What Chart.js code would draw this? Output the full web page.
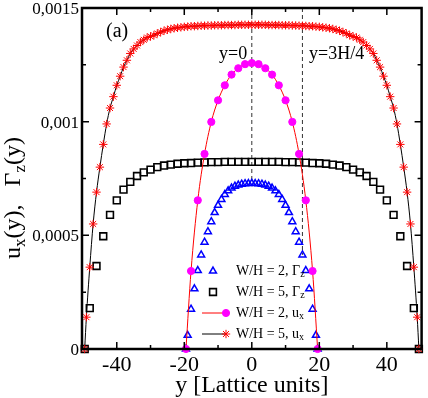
<!DOCTYPE html>
<html>
<head>
<meta charset="utf-8">
<script src="https://cdn.jsdelivr.net/npm/chart.js@4.4.0/dist/chart.umd.min.js"></script>
<style>
  html, body { margin: 0; padding: 0; background: #fff; }
  #wrap { width: 428px; height: 398px; }
</style>
</head>
<body>
<div id="wrap"><canvas id="profile" width="428" height="398"></canvas></div>
<script>
// W/H = 5, u_x  (red asterisks + black line)
const w5UxX = [-49.5, -49, -48, -47, -46, -45, -44, -43, -42, -41, -40, -39, -38, -37, -36, -35, -34, -33, -32, -31,
  -30, -29, -28, -27, -26, -25, -24, -23, -22, -21, -20, -19, -18, -17, -16, -15, -14, -13, -12, -11,
  -10, -9, -8, -7, -6, -5, -4, -3, -2, -1, 0, 1, 2, 3, 4, 5, 6, 7, 8, 9,
  10, 11, 12, 13, 14, 15, 16, 17, 18, 19, 20, 21, 22, 23, 24, 25, 26, 27, 28, 29,
  30, 31, 32, 33, 34, 35, 36, 37, 38, 39, 40, 41, 42, 43, 44, 45, 46, 47, 48, 49, 49.5];
const w5UxY = [0, 0.00014, 0.00036, 0.00055, 0.00069, 0.0008, 0.0009, 0.00099, 0.00106, 0.00111,
  0.00116, 0.0012, 0.00124, 0.00127, 0.0013, 0.00132, 0.001335, 0.00135, 0.00136, 0.00137,
  0.001375, 0.00138, 0.001388, 0.001394, 0.0014, 0.001404, 0.001408, 0.001411, 0.001413, 0.001415,
  0.001417, 0.001418, 0.00142, 0.00142, 0.001421, 0.001422, 0.001422, 0.001423, 0.001423, 0.001424,
  0.001424, 0.001424, 0.001425, 0.001425, 0.001425, 0.001425, 0.001426, 0.001426, 0.001426, 0.001426,
  0.001426,
  0.001426, 0.001426, 0.001426, 0.001426, 0.001425, 0.001425, 0.001425, 0.001425, 0.001424, 0.001424,
  0.001424, 0.001423, 0.001423, 0.001422, 0.001422, 0.001421, 0.00142, 0.00142, 0.001418, 0.001417,
  0.001415, 0.001413, 0.001411, 0.001408, 0.001404, 0.0014, 0.001394, 0.001388, 0.00138, 0.001375,
  0.00137, 0.00136, 0.00135, 0.001335, 0.00132, 0.0013, 0.00127, 0.00124, 0.0012, 0.00116,
  0.00111, 0.00106, 0.00099, 0.0009, 0.0008, 0.00069, 0.00055, 0.00036, 0.00014, 0];

// W/H = 5, Gamma_z  (black open squares)
const w5GzX = [-49.5, -48, -46, -44, -42, -40, -38, -36, -34, -32, -30, -28, -26, -24, -22, -20, -18, -16, -14, -12,
  -10, -8, -6, -4, -2, 0, 2, 4, 6, 8, 10, 12, 14, 16, 18, 20, 22, 24, 26, 28,
  30, 32, 34, 36, 38, 40, 42, 44, 46, 48, 49.5];
const w5GzY = [0, 0.00018, 0.000365, 0.000496, 0.00059, 0.000654, 0.000701, 0.000735, 0.000761, 0.000777,
  0.000789, 0.0008, 0.000807, 0.000811, 0.000815, 0.000817, 0.000818, 0.00082, 0.000821, 0.000822,
  0.000822, 0.000823, 0.000823, 0.000823, 0.000823, 0.000823, 0.000823, 0.000823, 0.000823, 0.000823,
  0.000822, 0.000822, 0.000821, 0.00082, 0.000818, 0.000817, 0.000815, 0.000811, 0.000807, 0.0008,
  0.000789, 0.000777, 0.000761, 0.000735, 0.000701, 0.000654, 0.00059, 0.000496, 0.000365, 0.00018, 0];

// W/H = 2, u_x  (magenta dots + red line)
const w2UxX = [-19.5, -18, -16, -14, -12, -10, -8, -6, -4, -2, 0, 2, 4, 6, 8, 10, 12, 14, 16, 18, 19.5];
const w2UxY = [0, 0.000343, 0.000654, 0.000858, 0.000999, 0.001094, 0.00116, 0.001207, 0.001235, 0.001253,
  0.001258, 0.001253, 0.001235, 0.001207, 0.00116, 0.001094, 0.000999, 0.000858, 0.000654, 0.000343, 0];

// W/H = 2, Gamma_z  (blue open triangles)
const w2GzX = [-19.5, -19, -18, -17, -16, -15, -14, -13, -12, -11, -10, -9, -8, -7, -6, -5, -4, -3, -2, -1,
  0, 1, 2, 3, 4, 5, 6, 7, 8, 9, 10, 11, 12, 13, 14, 15, 16, 17, 18, 19, 19.5];
const w2GzY = [0, 0.00006, 0.000175, 0.000265, 0.000345, 0.000414, 0.00047, 0.000516, 0.00056, 0.0006,
  0.000632, 0.000658, 0.00068, 0.000696, 0.000708, 0.000716, 0.000721, 0.000725, 0.000727, 0.000728,
  0.000729, 0.000728, 0.000727, 0.000725, 0.000721, 0.000716, 0.000708, 0.000696, 0.00068, 0.000658,
  0.000632, 0.0006, 0.00056, 0.000516, 0.00047, 0.000414, 0.000345, 0.000265, 0.000175, 0.00006, 0];

// dashed guides: y=0 and y=3H/4, from the top down to the W/H=2 Gamma_z curve
const guideX = [0, 15];
const guideTop = 0.0015;
const guideBottom = [0.000729, 0.000414];
const guideLabels = ['y=0', 'y=3H/4'];

// axes
const xMin = -50.3, xMax = 50.3;
const xTicks = [-40, -20, 0, 20, 40];
const xTickLabels = ['-40', '-20', '0', '20', '40'];
const xMinor = [-30, -10, 10, 30];
const yMin = 0, yMax = 0.0015;
const yTicks = [0, 0.0005, 0.001, 0.0015];
const yTickLabels = ['0', '0,0005', '0,001', '0,0015'];
const yMinor = [0.00025, 0.00075, 0.00125];

const legendLabels = [['W/H = 2, \u0393', 'z'], ['W/H = 5, \u0393', 'z'], ['W/H = 2, u', 'x'], ['W/H = 5, u', 'x']];

const SERIF = "'Liberation Serif', 'Times New Roman', serif";

function pts(xs, ys) {
    return xs.map((x, i) => ({ x: x, y: ys[i] }));
}

// marker styles, shared by the datasets and the legend
const styles = [
    { pointStyle: 'triangle', radius: 4, borderWidth: 1.5, color: '#0000ff', fill: 'rgba(0,0,0,0)', line: null },
    { pointStyle: 'rect', radius: 4.8, borderWidth: 1.6, color: '#000000', fill: 'rgba(0,0,0,0)', line: null },
    { pointStyle: 'circle', radius: 3.6, borderWidth: 1, color: '#ff00ff', fill: '#ff00ff', line: '#ff0000' },
    { pointStyle: 'star', radius: 4.2, borderWidth: 1, color: '#ff0000', fill: '#ff0000', line: '#000000' }
];

function seriesDataset(xs, ys, s) {
    return {
        data: pts(xs, ys),
        showLine: !!s.line,
        borderColor: s.line || s.color,
        borderWidth: 1,
        cubicInterpolationMode: 'monotone',
        pointStyle: s.pointStyle,
        pointRadius: s.radius,
        pointBorderWidth: s.borderWidth,
        pointBorderColor: s.color,
        pointBackgroundColor: s.fill,
        clip: false
    };
}

function guideDataset(i) {
    return {
        data: [{ x: guideX[i], y: guideTop }, { x: guideX[i], y: guideBottom[i] }],
        showLine: true,
        borderColor: '#333333',
        borderWidth: 1,
        borderDash: [4, 3],
        pointRadius: 0
    };
}

// draw text with a subscript tail; returns width
function richText(ctx, main, sub, x, y, size, subSize, measureOnly) {
    ctx.font = size + 'px ' + SERIF;
    const w1 = ctx.measureText(main).width;
    ctx.font = subSize + 'px ' + SERIF;
    const w2 = ctx.measureText(sub).width;
    if (!measureOnly) {
        ctx.font = size + 'px ' + SERIF;
        ctx.fillText(main, x, y);
        ctx.font = subSize + 'px ' + SERIF;
        ctx.fillText(sub, x + w1, y + size * 0.22);
    }
    return w1 + w2;
}

// frame with inward ticks on all four sides, plus tick labels
const framePlugin = {
    id: 'frame',
    afterDatasetsDraw(chart) {
        const { ctx, chartArea: a } = chart;
        const sx = chart.scales.x, sy = chart.scales.y;
        ctx.save();
        ctx.strokeStyle = '#000';
        ctx.lineWidth = 1.5;
        ctx.beginPath();
        const xt = (v, len) => {
            const px = sx.getPixelForValue(v);
            ctx.moveTo(px, a.bottom); ctx.lineTo(px, a.bottom - len);
            ctx.moveTo(px, a.top); ctx.lineTo(px, a.top + len);
        };
        const yt = (v, len) => {
            const py = sy.getPixelForValue(v);
            ctx.moveTo(a.left, py); ctx.lineTo(a.left + len, py);
            ctx.moveTo(a.right, py); ctx.lineTo(a.right - len, py);
        };
        xTicks.forEach(v => xt(v, 7));
        xMinor.forEach(v => xt(v, 4));
        yTicks.forEach(v => yt(v, 7));
        yMinor.forEach(v => yt(v, 4));
        ctx.stroke();
        ctx.lineWidth = 2.5;
        ctx.strokeRect(a.left, a.top, a.right - a.left, a.bottom - a.top);

        ctx.fillStyle = '#000';
        ctx.textBaseline = 'alphabetic';
        ctx.font = '22px ' + SERIF;
        ctx.textAlign = 'center';
        xTicks.forEach((v, i) => ctx.fillText(xTickLabels[i], sx.getPixelForValue(v), a.bottom + 22));
        ctx.font = '17px ' + SERIF;
        ctx.textAlign = 'right';
        yTicks.forEach((v, i) => ctx.fillText(yTickLabels[i], a.left - 3, sy.getPixelForValue(v) + 6));
        ctx.restore();
    }
};

// titles, panel letter, guide labels and the legend
const textPlugin = {
    id: 'texts',
    afterDraw(chart) {
        const { ctx, chartArea: a } = chart;
        ctx.save();
        ctx.fillStyle = '#000';
        ctx.textBaseline = 'alphabetic';
        ctx.textAlign = 'left';

        // x title
        ctx.font = '24px ' + SERIF;
        const xt = 'y [Lattice units]';
        ctx.fillText(xt, (a.left + a.right) / 2 - ctx.measureText(xt).width / 2, 392);

        // y title, rotated
        ctx.save();
        ctx.translate(20, 198);
        ctx.rotate(-Math.PI / 2);
        const parts = [['u', 'x'], ['(y),   \u0393', 'z'], ['(y)', '']];
        let total = 0;
        parts.forEach(p => { total += richText(ctx, p[0], p[1], 0, 0, 24, 17, true); });
        let cx = -total / 2;
        parts.forEach(p => { cx += richText(ctx, p[0], p[1], cx, 0, 24, 17, false); });
        ctx.restore();

        // panel letter and guide labels
        ctx.font = '20px ' + SERIF;
        ctx.fillText('(a)', 106, 37);
        ctx.font = '18px ' + SERIF;
        ctx.fillText(guideLabels[0], 219, 59);
        ctx.fillText(guideLabels[1], 309, 59);

        // legend
        const rows = [271, 292, 313, 334];
        legendLabels.forEach((lab, i) => {
            const s = styles[i];
            const y = rows[i];
            let mx = 213;
            if (s.line) {
                ctx.strokeStyle = s.line;
                ctx.lineWidth = 1;
                ctx.beginPath();
                ctx.moveTo(202, y);
                ctx.lineTo(226, y);
                ctx.stroke();
                mx = 226;
            }
            ctx.strokeStyle = s.color;
            ctx.fillStyle = s.fill;
            ctx.lineWidth = s.borderWidth;
            Chart.helpers.drawPoint(ctx, { pointStyle: s.pointStyle, radius: s.radius, borderWidth: s.borderWidth, rotation: 0 }, mx, y);
            ctx.fillStyle = '#000';
            ctx.textBaseline = 'middle';
            richText(ctx, lab[0], lab[1], 236, y, 14, 10, false);
        });
        ctx.restore();
    }
};

const chart = new Chart(document.getElementById('profile'), {
    type: 'line',
    data: {
        datasets: [
            seriesDataset(w2UxX, w2UxY, styles[2]),
            seriesDataset(w5UxX, w5UxY, styles[3]),
            seriesDataset(w2GzX, w2GzY, styles[0]),
            seriesDataset(w5GzX, w5GzY, styles[1]),
            guideDataset(0),
            guideDataset(1)
        ]
    },
    options: {
        responsive: false,
        animation: false,
        layout: { padding: { top: 8, right: 3, left: 0, bottom: 0 } },
        plugins: {
            legend: { display: false },
            tooltip: { enabled: false }
        },
        scales: {
            x: {
                type: 'linear',
                min: xMin,
                max: xMax,
                afterBuildTicks: (scale) => { scale.ticks = xTicks.map(v => ({ value: v })); },
                afterFit: (scale) => { scale.height = 49; scale.paddingLeft = 0; scale.paddingRight = 0; },
                grid: { display: false },
                border: { display: false },
                ticks: { display: false }
            },
            y: {
                type: 'linear',
                min: yMin,
                max: yMax,
                afterBuildTicks: (scale) => { scale.ticks = yTicks.map(v => ({ value: v })); },
                afterFit: (scale) => { scale.width = 82; scale.paddingTop = 0; scale.paddingBottom = 0; },
                grid: { display: false },
                border: { display: false },
                ticks: { display: false }
            }
        }
    },
    plugins: [framePlugin, textPlugin]
});
</script>
</body>
</html>
